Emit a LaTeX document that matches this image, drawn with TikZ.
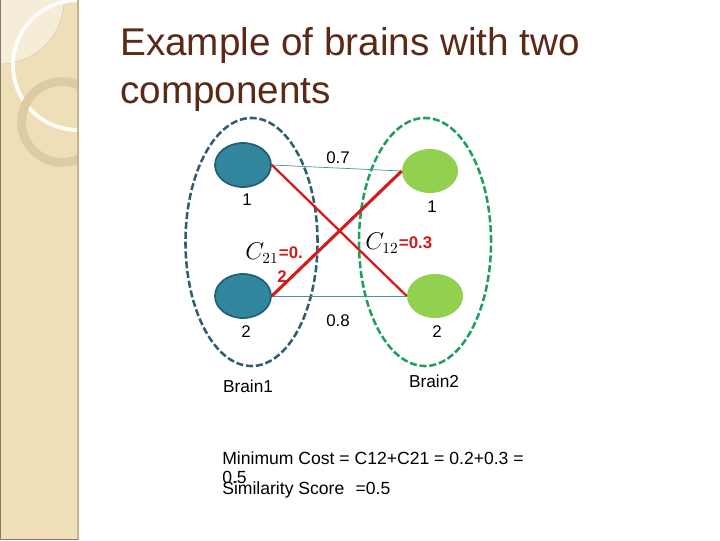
\documentclass[tikz,border=0pt]{standalone}
\usepackage{fontspec}
\setmainfont{Liberation Sans}
\usetikzlibrary{shapes.geometric}

\begin{document}
\begin{tikzpicture}[x=0.025cm, y=-0.025cm,
  brain/.style={ellipse, draw, dashed, line width=1.8pt, dash pattern=on 5pt off 2pt, minimum width=3.3cm, minimum height=6.2cm, inner sep=0pt},
  comp/.style={ellipse, minimum width=1.4cm, minimum height=1.1cm, inner sep=0pt},
  num/.style={font=\fontsize{12}{14}\selectfont},
  cost/.style={font=\fontsize{12}{14}\selectfont\bfseries, text=costred, inner sep=0pt},
  cname/.style={font=\fontsize{16}{18}\selectfont, inner sep=0pt},
  link/.style={draw=linkteal, line width=0.5pt},
  match/.style={draw=costred, line width=1.6pt}]
  \definecolor{side}{HTML}{EEDFB9}
  \definecolor{sideline}{HTML}{C5B38C}
  \definecolor{ring}{HTML}{DCCBA4}
  \definecolor{titlebrown}{HTML}{5A2A16}
  \definecolor{blueb}{HTML}{31859C}
  \definecolor{bluedark}{HTML}{215E70}
  \definecolor{leftdash}{HTML}{2F5F6E}
  \definecolor{greenb}{HTML}{92D050}
  \definecolor{rightdash}{HTML}{1F9F5E}
  \definecolor{linkteal}{HTML}{4C8F9F}
  \definecolor{costred}{HTML}{D41A1A}
  \useasboundingbox[fill=white] (0,0) rectangle (720,540);
  % side bar with the rings
  \fill[side] (0,0) rectangle (78,540);
  \begin{scope}
    \clip (0,0) rectangle (78,540);
    \draw[fill=white!45!side, draw=sideline!70, line width=0.4pt] (0,0) circle (1.6cm);
    \draw[white!90!side, line width=0.1cm] (78,65) circle (1.625cm);
    \draw[ring, line width=0.22cm] (62,122) circle (1.01cm);
  \end{scope}
  \draw[sideline, line width=1.5pt] (78,0) -- (78,540);
  \draw[black!45!side, line width=0.6pt] (0.5,0) -- (0.5,539.5) -- (78,539.5);
  % title
  \node[anchor=base west, inner sep=0pt, text=titlebrown, font=\fontsize{27.5}{32}\selectfont] (title1) at (120,55) {Example of brains with two};
  \node[anchor=base west, inner sep=0pt, text=titlebrown, font=\fontsize{27.5}{32}\selectfont] (title2) at (120,103) {components};
  % the two brains
  \node[brain, draw=leftdash] (brain1) at (251.5,242) {};
  \node[brain, draw=rightdash] (brain2) at (425,242) {};
  \node[comp, fill=blueb, draw=bluedark, line width=1.2pt] (b1) at (243,165) {};
  \node[comp, fill=blueb, draw=bluedark, line width=1.2pt] (b2) at (243,296) {};
  \node[comp, fill=greenb] (g1) at (430,171) {};
  \node[comp, fill=greenb] (g2) at (435,296) {};
  \draw[link] (b1.east) -- (g1.west);
  \draw[link] (b2.east) -- (g2.west);
  \draw[match] (b1.east) -- (g2.west);
  \draw[match, line width=2.2pt] (b2.east) -- (g1.west);
  % labels
  \node[num] (l07) at (338,158) {0.7};
  \node[num] (l08) at (338,321) {0.8};
  \node[num] (lb1) at (247,200) {1};
  \node[num] (lb2) at (246,332) {2};
  \node[num] (lg1) at (432,207) {1};
  \node[num] (lg2) at (437,332) {2};
  \node[font=\fontsize{12.3}{14}\selectfont] (name1) at (248,386) {Brain1};
  \node[font=\fontsize{12.3}{14}\selectfont] (name2) at (434,381) {Brain2};
  \node[cname, anchor=west] (c21) at (245,253) {$C_{21}$};
  \node[cost, anchor=west] (c21val) at (c21.east) {=0.};
  \node[cost] (c21rest) at (282,277) {2};
  \node[cname, anchor=west] (c12) at (365,243) {$C_{12}$};
  \node[cost, anchor=west] (c12val) at (c12.east) {=0.3};
  % summary
  \node[anchor=base west, inner sep=0pt, font=\fontsize{12.5}{14}\selectfont] (mincost) at (222,464) {Minimum Cost = C12+C21 = 0.2+0.3 =};
  \node[anchor=base west, inner sep=0pt, font=\fontsize{12.5}{14}\selectfont] (minval) at (222,483) {0.5};
  \node[anchor=base west, inner sep=0pt, font=\fontsize{12.5}{14}\selectfont] (score) at (222,494) {Similarity Score\hspace{8pt}=0.5};
\end{tikzpicture}
\end{document}
